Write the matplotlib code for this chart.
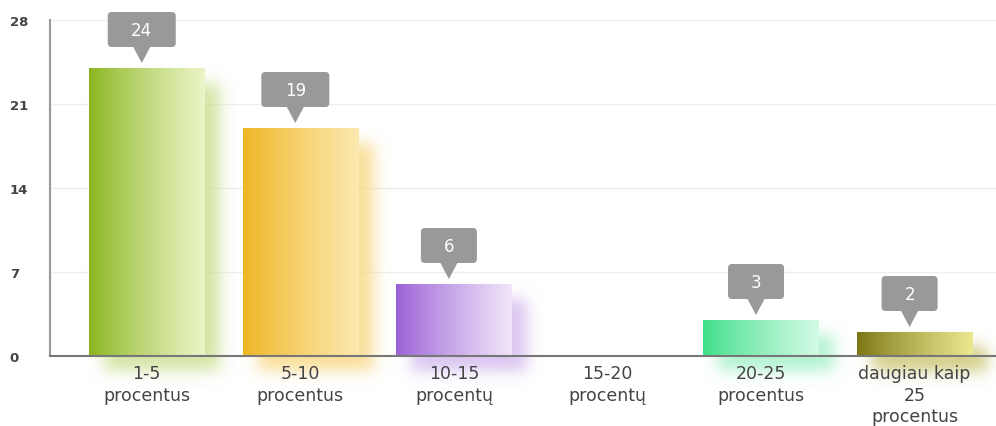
import numpy as np
import matplotlib.pyplot as plt
from matplotlib.patches import FancyBboxPatch, Polygon
from matplotlib.transforms import Affine2D, ScaledTranslation
from matplotlib.colors import to_rgb

categories = ["1-5\nprocentus", "5-10\nprocentus", "10-15\nprocentų",
              "15-20\nprocentų", "20-25\nprocentus", "daugiau kaip\n25\nprocentus"]
values = [24, 19, 6, 0, 3, 2]
dark_colors = ["#8ab51e", "#efb522", "#9a5ed6", "#e05a5a", "#3ddf88", "#7a7412"]
light_colors = ["#ecf5c8", "#fce9b0", "#f0e6fa", "#fadada", "#d4fae6", "#ece890"]
yticks = [0, 7, 14, 21, 28]

fig = plt.figure(figsize=(9.96, 4.27), dpi=100)
ax = fig.add_axes([50 / 996, 70 / 427, 946 / 996, 336 / 427])
ax.set_xlim(-0.63, 5.53)
ax.set_ylim(0, 28)

bar_w = 0.75
t = np.linspace(0, 1, 256)

# pixels per data unit, to size shadow / blur in screen terms
p0 = ax.transData.transform((0, 0))
p1 = ax.transData.transform((1, 1))
px_x, px_y = p1[0] - p0[0], p1[1] - p0[1]

shadow_dx, shadow_dy, blur = 15, 15, 4.5


def sig(z):
    return 1 / (1 + np.exp(-z))


for i, v in enumerate(values):
    if v == 0:
        continue
    x0, x1 = i - bar_w / 2, i + bar_w / 2
    dark = np.array(to_rgb(dark_colors[i]))
    light = np.array(to_rgb(light_colors[i]))

    # blurred drop shadow
    wpx, hpx = bar_w * px_x, v * px_y
    m = 4 * blur
    gx = np.linspace(-m, wpx + m, 200)
    gy = np.linspace(-m, hpx + m, 200)
    ax_ = sig(gx / blur) * sig((wpx - gx) / blur)
    ay_ = sig(gy / blur) * sig((hpx - gy) / blur)
    alpha = np.outer(ay_[::-1], ax_) * 0.8
    shade = np.zeros((200, 200, 4))
    shade[..., :3] = dark * 0.35 + light * 0.65
    shade[..., 3] = alpha
    sx0 = x0 + (shadow_dx - m) / px_x
    sx1 = x0 + (shadow_dx + wpx + m) / px_x
    sy0 = (-shadow_dy - m) / px_y
    sy1 = (-shadow_dy + hpx + m) / px_y
    im = ax.imshow(shade, extent=(sx0, sx1, sy0, sy1), aspect="auto",
                   zorder=2, interpolation="bilinear")
    im.set_clip_on(False)

    # gradient bar
    tt = t ** 0.85
    grad = dark[None, :] * (1 - tt[:, None]) + light[None, :] * tt[:, None]
    img = np.repeat(grad[None, :, :], 2, axis=0)
    ax.imshow(img, extent=(x0, x1, 0, v), aspect="auto", zorder=3,
              interpolation="bilinear")

    # value bubble
    tr = Affine2D() + ScaledTranslation(i, v, ax.transData)
    bw = 44 + 12 * len(str(v))
    cx = -5
    ax.add_patch(FancyBboxPatch((cx - bw / 2, 21), bw, 35,
                                boxstyle="round,pad=0,rounding_size=4",
                                fc="#999999", ec="none", transform=tr,
                                zorder=5, clip_on=False))
    ax.add_patch(Polygon([(cx - 9, 22), (cx + 9, 22), (cx, 5)], closed=True,
                         fc="#999999", ec="none", transform=tr, zorder=5,
                         clip_on=False))
    ax.annotate(str(v), (i, v), xytext=(cx, 38.5), textcoords="offset pixels",
                ha="center", va="center", color="white", fontsize=12,
                zorder=6)

ax.set_xlim(-0.63, 5.53)
ax.set_ylim(0, 28)

ax.set_yticks(yticks)
ax.set_yticklabels([str(y) for y in yticks], fontsize=9.5, fontweight="bold",
                   color="#444444")
for lbl in ax.get_yticklabels():
    lbl.set_ha("left")
ax.tick_params(axis="y", length=0, pad=29)

ax.set_xticks(range(len(categories)))
ax.set_xticklabels(categories, fontsize=12.5, color="#444444", linespacing=1.25)
ax.tick_params(axis="x", length=0, pad=6)

ax.grid(axis="y", color="#eeeeee", linewidth=1)
ax.set_axisbelow(True)
ax.xaxis.set_zorder(10)  # category labels above the shadows
for s in ["top", "right"]:
    ax.spines[s].set_visible(False)
ax.spines["left"].set_color("#999999")
ax.spines["left"].set_linewidth(1.5)
ax.spines["bottom"].set_color("#777777")
ax.spines["bottom"].set_linewidth(1.5)
ax.spines["bottom"].set_zorder(4)

fig.savefig("out.png", dpi=100)
